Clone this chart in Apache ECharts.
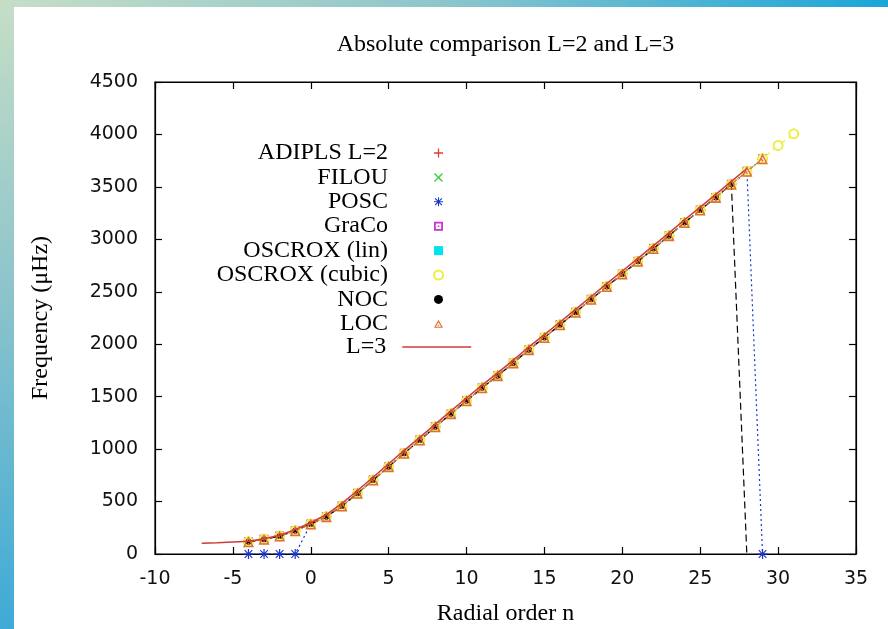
<!DOCTYPE html>
<html>
<head>
<meta charset="utf-8">
<script src="https://cdn.jsdelivr.net/npm/echarts@6/dist/echarts.min.js"></script>
<style>
html,body{margin:0;padding:0;background:#fff;}
#chart{width:888px;height:629px;}
</style>
</head>
<body>
<div id="chart"></div>
<script>
// ---- data ----
const titleText = 'Absolute comparison L=2 and L=3';
const xName = 'Radial order n';
const yName = 'Frequency (\u03bcHz)';
const seriesNames = ['ADIPLS L=2','FILOU','POSC','GraCo','OSCROX (lin)','OSCROX (cubic)','NOC','LOC','L=3'];

// radial orders for the L=2 codes
const nL2 = [-4,-3,-2,-1,0,1,2,3,4,5,6,7,8,9,10,11,12,13,14,15,16,17,18,19,20,21,22,23,24,25,26,27,28,29];
const adipls = [117,140,171,222,286,356,457,578,705,833,960,1086,1212,1338,1460,1585,1700,1822,1948,2064,2185,2305,2428,2550,2670,2790,2912,3035,3160,3280,3400,3525,3648,3768];
const filou  = [117,140,171,222,286,356,457,578,705,833,960,1086,1212,1338,1460,1585,1700,1822,1948,2064,2185,2305,2428,2550,2670,2790,2912,3035,3160,3280,3400,3525,3648,3768];
const posc   = [0,0,0,0,286,356,457,578,705,833,960,1086,1212,1338,1460,1585,1700,1822,1948,2064,2185,2305,2428,2550,2670,2790,2912,3035,3160,3280,3400,3525,3648,0];
const graco  = [117,140,171,222,286,356,457,578,705,833,960,1086,1212,1338,1460,1585,1700,1822,1948,2064,2185,2305,2428,2550,2670,2790,2912,3035,3160,3280,3400,3525,3648,3768];
const oscLin = [117,140,171,222,286,356,457,578,705,833,960,1086,1212,1338,1460,1585,1700,1822,1948,2064,2185,2305,2428,2550,2670,2790,2912,3035,3160,3280,3400,3525,3648,3768];
const nCubic = [-4,-3,-2,-1,0,1,2,3,4,5,6,7,8,9,10,11,12,13,14,15,16,17,18,19,20,21,22,23,24,25,26,27,28,29,30,31];
const oscCub = [117,140,171,222,286,356,457,578,705,833,960,1086,1212,1338,1460,1585,1700,1822,1948,2064,2185,2305,2428,2550,2670,2790,2912,3035,3160,3280,3400,3525,3648,3768,3895,4006];
const nNoc   = [-4,-3,-2,-1,0,1,2,3,4,5,6,7,8,9,10,11,12,13,14,15,16,17,18,19,20,21,22,23,24,25,26,27,28];
const noc    = [117,140,171,222,286,356,457,578,705,833,960,1086,1212,1338,1460,1585,1700,1822,1948,2064,2185,2305,2428,2550,2670,2790,2912,3035,3160,3280,3400,3525,-30];
const loc    = [117,140,171,222,286,356,457,578,705,833,960,1086,1212,1338,1460,1585,1700,1822,1948,2064,2185,2305,2428,2550,2670,2790,2912,3035,3160,3280,3400,3525,3648,3768];
// L=3 reference line
const nL3 = [-7,-6,-5,-4,-3,-2,-1,0,1,2,3,4,5,6,7,8,9,10,11,12,13,14,15,16,17,18,19,20,21,22,23,24,25,26,27,28];
const l3  = [102,108,115,122,145,180,232,300,375,482,605,732,860,988,1112,1238,1364,1487,1610,1727,1848,1974,2092,2212,2332,2455,2578,2698,2818,2940,3062,3187,3307,3428,3552,3675];

const xTicks = {min:-10, max:35, interval:5};
const yTicks = {min:0, max:4500, interval:500};

// ---- styling ----
const SERIF = '"Liberation Serif", "Times New Roman", serif';
const SANS = '"DejaVu Sans", sans-serif';
const colors = ['#e03c31','#3ecf3e','#1a35c8','#cc33cc','#00e4ee','#eeee44','#000000','#e07030','#d03a3a'];
const PLUS = 'path://M0,4.3H10V5.7H0Z M4.3,0H5.7V10H4.3Z';
const CROSS = 'path://M0,1.1L1.1,0L5,3.9L8.9,0L10,1.1L6.1,5L10,8.9L8.9,10L5,6.1L1.1,10L0,8.9L3.9,5Z';
const STAR = 'path://M0,4.4H10V5.6H0Z M4.4,0H5.6V10H4.4Z M0.8,1.6L1.6,0.8L5,4.2L8.4,0.8L9.2,1.6L5.8,5L9.2,8.4L8.4,9.2L5,5.8L1.6,9.2L0.8,8.4L4.2,5Z';
const BOXDOT = 'path://M0,0H10V10H0Z M2,2V8H8V2Z M4.1,4.1H5.9V5.9H4.1Z';
const TRIDOT = 'path://M5,0L10,9L0,9Z M5,2.8L2.1,7.7L7.9,7.7Z M4.3,5.5H5.7V6.9H4.3Z';
const symbols = [PLUS, CROSS, STAR, BOXDOT, 'rect', 'emptyCircle', 'circle', TRIDOT];
const sizes = [10, 8, 10, 9, 7, 9, 6, 11];
const legendSizes = [8, 8, 8, 8, 8, 8, 8, 10];
const lineTypes = [[2,3],[2,3],[2,3],[6,4],[2,3],[6,4],[7,4],[4,3]];

function pairs(xs, ys){ return xs.map((x,i)=>[x, ys[i]]); }
const l2Data = [pairs(nL2,adipls), pairs(nL2,filou), pairs(nL2,posc), pairs(nL2,graco), pairs(nL2,oscLin), pairs(nCubic,oscCub), pairs(nNoc,noc), pairs(nL2,loc)];

const series = l2Data.map((d,i)=>({
  name: seriesNames[i],
  type: 'line',
  data: d,
  symbol: symbols[i],
  symbolSize: sizes[i],
  showSymbol: true,
  showAllSymbol: true,
  clip: true,
  itemStyle: symbols[i].indexOf('empty')===0 ? {color: colors[i], borderColor: colors[i], borderWidth: 1.5} : {color: colors[i]},
  lineStyle: {color: colors[i], width: 1.2, type: lineTypes[i]},
  emphasis: {disabled: true},
  animation: false,
  z: 2 + i
}));
series.push({
  name: seriesNames[8],
  type: 'line',
  data: pairs(nL3, l3),
  symbol: 'none',
  clip: true,
  itemStyle: {color: colors[8]},
  lineStyle: {color: colors[8], width: 1.5},
  emphasis: {disabled: true},
  animation: false,
  z: 12
});

const legendIcons = [PLUS, CROSS, STAR, BOXDOT, 'rect', 'emptyCircle', 'circle', TRIDOT];

const chart = echarts.init(document.getElementById('chart'), null, {renderer: 'canvas'});
chart.setOption({
  animation: false,
  backgroundColor: '#ffffff',
  graphic: [
    {type:'rect', shape:{x:0,y:0,width:888,height:7}, silent:true,
     style:{fill:{type:'linear',x:0,y:0,x2:1,y2:0,colorStops:[{offset:0,color:'#c6dec6'},{offset:0.5,color:'#8cc6cc'},{offset:1,color:'#1aa5d9'}]}}},
    {type:'rect', shape:{x:0,y:0,width:14,height:629}, silent:true,
     style:{fill:{type:'linear',x:0,y:0,x2:0,y2:1,colorStops:[{offset:0,color:'#c6dec6'},{offset:0.5,color:'#88c2cc'},{offset:1,color:'#3eaad6'}]}}},
    {type:'text', x:505.5, y:45, silent:true,
     style:{text:titleText, align:'center', verticalAlign:'middle', font:'24px ' + SERIF, fill:'#000'}}
  ],
  grid: {left:155, right:32, top:82, bottom:75, containLabel:false, outerBoundsMode:'none',
         show:true, borderColor:'#000', borderWidth:1.2, backgroundColor:'transparent'},
  legend: [
    {
      data: seriesNames.slice(0,8).map((n,i)=>({name:n, icon: legendIcons[i]})),
      orient:'vertical', align:'right', right: 444, top: 141, padding: 0,
      itemWidth: 9, itemHeight: 9, itemGap: 0.4, selectedMode: false,
      textStyle: {fontFamily: SERIF, fontSize: 24, color:'#000', padding:[0,41,0,0]}
    },
    {
      data: [{name: seriesNames[8]}],
      orient:'vertical', align:'right', right: 416, top: 335, padding: 0,
      itemWidth: 69, itemHeight: 14, selectedMode: false,
      itemStyle: {opacity: 0},
      lineStyle: {color: colors[8], width: 1.5},
      textStyle: {fontFamily: SERIF, fontSize: 24, color:'#000', padding:[0,11,0,0]}
    }
  ],
  xAxis: [
    {type:'value', min:xTicks.min, max:xTicks.max, interval:xTicks.interval, position:'bottom',
     name: xName, nameLocation:'middle', nameGap: 48,
     nameTextStyle:{fontFamily: SERIF, fontSize: 24, color:'#000'},
     axisLine:{show:true, onZero:false, lineStyle:{color:'#000', width:1.2}},
     axisTick:{show:true, inside:true, length:7, lineStyle:{color:'#000', width:1.2}},
     axisLabel:{fontFamily: SANS, fontSize: 19, color:'#111', margin: 16, formatter: v => String(v)},
     splitLine:{show:false}},
    {type:'value', min:xTicks.min, max:xTicks.max, interval:xTicks.interval, position:'top',
     axisLine:{show:true, onZero:false, lineStyle:{color:'#000', width:1.2}},
     axisTick:{show:true, inside:true, length:7, lineStyle:{color:'#000', width:1.2}},
     axisLabel:{show:false}, splitLine:{show:false}}
  ],
  yAxis: [
    {type:'value', min:yTicks.min, max:yTicks.max, interval:yTicks.interval, position:'left',
     name: yName, nameLocation:'middle', nameGap: 102,
     nameTextStyle:{fontFamily: SERIF, fontSize: 24, color:'#000'},
     axisLine:{show:true, onZero:false, lineStyle:{color:'#000', width:1.2}},
     axisTick:{show:true, inside:true, length:7, lineStyle:{color:'#000', width:1.2}},
     axisLabel:{fontFamily: SANS, fontSize: 19, color:'#111', margin: 17, formatter: v => String(v)},
     splitLine:{show:false}},
    {type:'value', min:yTicks.min, max:yTicks.max, interval:yTicks.interval, position:'right',
     axisLine:{show:true, onZero:false, lineStyle:{color:'#000', width:1.2}},
     axisTick:{show:true, inside:true, length:7, lineStyle:{color:'#000', width:1.2}},
     axisLabel:{show:false}, splitLine:{show:false}}
  ],
  series: series
});
</script>
</body>
</html>
